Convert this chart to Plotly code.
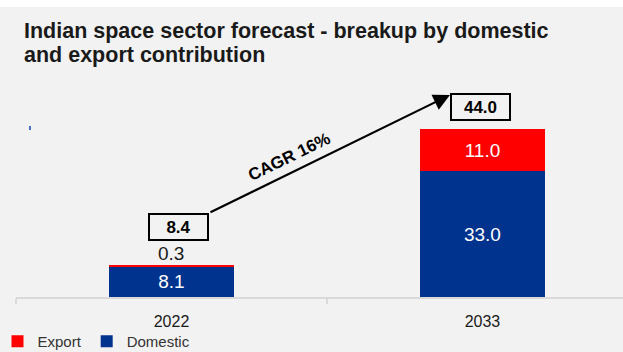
import plotly.graph_objects as go

categories = ["2022", "2033"]
domestic = [8.1, 33.0]
export = [0.3, 11.0]
totals = [8.4, 44.0]
cagr_label = "CAGR 16%"
title_lines = ["Indian space sector forecast - breakup by domestic", "and export contribution"]

BLUE = "#00338d"
RED = "#ff0000"
FONT = "Liberation Sans, Arial, sans-serif"

fig = go.Figure()
fig.add_bar(
    x=categories, y=domestic, name="Domestic", marker=dict(color=BLUE, line=dict(width=0)),
    text=[f"{v:.1f}" for v in domestic], textposition="inside", insidetextanchor="middle",
    textfont=dict(color="white", size=19, family=FONT), width=0.4,
)
fig.add_bar(
    x=categories, y=export, name="Export", marker=dict(color=RED, line=dict(width=0)),
    text=["" if v < 1 else f"{v:.1f}" for v in export], textposition="inside",
    insidetextanchor="middle",
    textfont=dict(color="white", size=19, family=FONT), width=0.4,
)

ppu = 3.807  # px per unit
plot_top_px, base_px = 60, 297
ymax = (base_px - plot_top_px) / ppu

fig.update_layout(
    width=623, height=352,
    margin=dict(l=0, r=0, t=0, b=0, autoexpand=False),
    paper_bgcolor="#f2f2f2", plot_bgcolor="#f2f2f2",
    barmode="stack",
    font=dict(family=FONT, color="#1a1a1a"),
    showlegend=True,
    legend=dict(orientation="h", x=-0.004, y=-0.017, xanchor="left", yanchor="bottom",
                traceorder="reversed", font=dict(size=15, color="#333333"),
                bgcolor="rgba(0,0,0,0)", itemwidth=30),
    xaxis=dict(domain=[16 / 623, 1], range=[-0.5, 1.452], type="category",
               showline=True, linecolor="#d9d9d9", linewidth=2,
               ticks="outside", tickson="boundaries", ticklen=5, tickcolor="#d9d9d9", tickwidth=2,
               tickfont=dict(size=16, color="#1a1a1a"), ticklabelstandoff=9,
               showgrid=False, zeroline=False),
    yaxis=dict(domain=[(352 - base_px) / 352, (352 - plot_top_px) / 352], range=[0, ymax],
               visible=False, showgrid=False, zeroline=False),
)

# title (two lines, tighter spacing)
for k, line in enumerate(title_lines):
    fig.add_annotation(text="<b>" + line + "</b>", xref="paper", yref="paper",
                       x=22 / 623, y=1 - (17 + 24 * k) / 352, xanchor="left", yanchor="top",
                       align="left", showarrow=False,
                       font=dict(size=21.5, color="#1a1a1a", family=FONT))

# white strip at top
fig.add_shape(type="rect", xref="paper", yref="paper", x0=0, x1=1, y0=1 - 7 / 352, y1=1,
              fillcolor="white", line=dict(width=0), layer="below")
# tiny blue mark
fig.add_shape(type="rect", xref="paper", yref="paper", x0=29 / 623, x1=31 / 623,
              y0=1 - 130 / 352, y1=1 - 126 / 352, fillcolor="#4472c4", line=dict(width=0))

# small export label above 2022 bar
for i, v in enumerate(export):
    if v < 1:
        fig.add_annotation(x=i, y=totals[i], xref="x", yref="y", text=f"{v:.1f}",
                           showarrow=False, yanchor="bottom", yshift=-1,
                           font=dict(size=19, color="#1a1a1a", family=FONT))

# total boxes
box_offsets = [10.0, 5.8]
box_dx = [0.021, -0.005]
for i, (c, t) in enumerate(zip(categories, totals)):
    fig.add_annotation(x=i + box_dx[i], y=t + box_offsets[i], xref="x", yref="y",
                       text=f"<b>{t:.1f}</b>", showarrow=False,
                       font=dict(size=17, color="black", family=FONT),
                       bordercolor="black", borderwidth=2, borderpad=0,
                       width=57, height=24, bgcolor="rgba(0,0,0,0)")

# arrow
fig.add_annotation(x=0.8955, y=53.06, ax=0.1206, ay=22.06, xref="x", yref="y",
                   axref="x", ayref="y", text="", showarrow=True,
                   arrowhead=2, arrowsize=1.5, arrowwidth=2.2, arrowcolor="black")
fig.add_annotation(x=0.381, y=36.8, xref="x", yref="y", text=f"<b>{cagr_label}</b>",
                   showarrow=False, textangle=-26,
                   font=dict(size=17, color="black", family=FONT))

fig.write_html("out.html")
